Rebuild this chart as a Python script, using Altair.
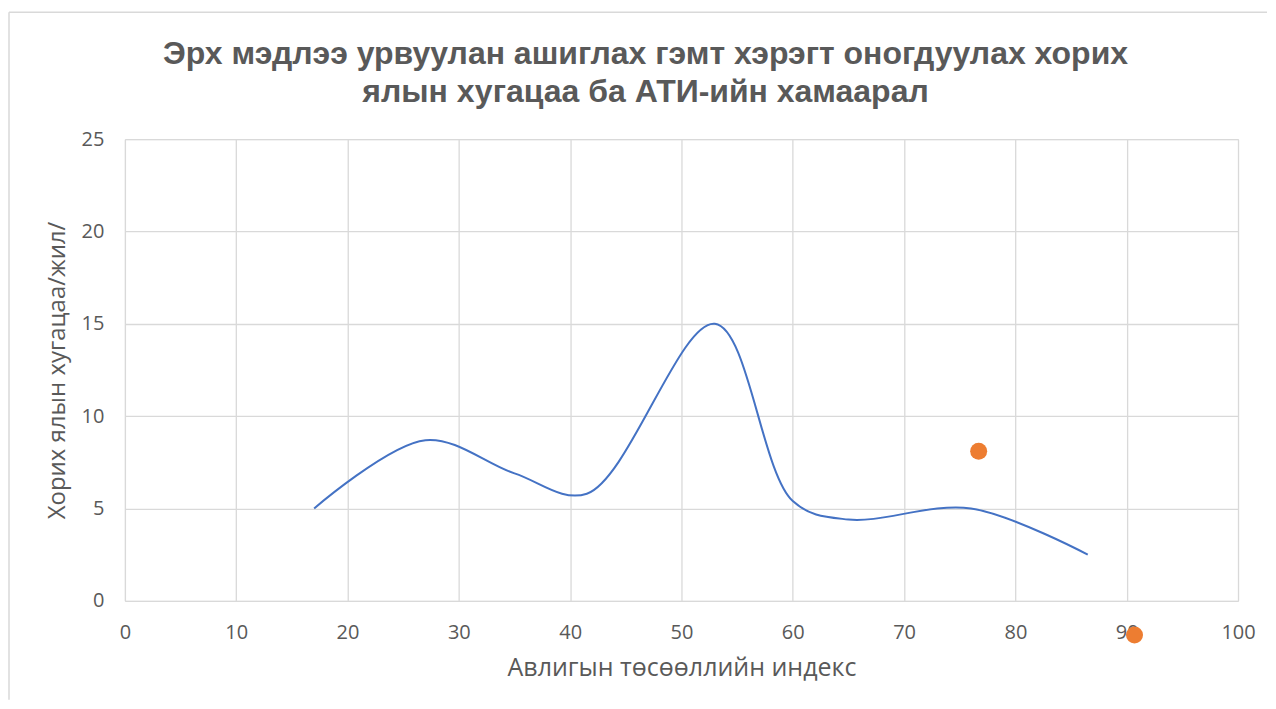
import altair as alt
import pandas as pd

# Line series (smoothed)
line_x = [17, 27, 35, 41.5, 53, 60, 65, 76, 86.5]
line_y = [5.0, 8.7, 6.9, 5.8, 15.0, 5.4, 4.4, 5.0, 2.5]

# Scatter series
pt_x = [76.7, 90.7]
pt_y = [8.1, -1.85]

x_ticks = list(range(0, 101, 10))
y_ticks = list(range(0, 26, 5))

title_lines = [
    "Эрх мэдлээ урвуулан ашиглах гэмт хэрэгт оногдуулах хорих",
    "ялын хугацаа ба АТИ-ийн хамаарал",
]

line_df = pd.DataFrame({"x": line_x, "y": line_y})
pt_df = pd.DataFrame({"x": pt_x, "y": pt_y})
one_df = pd.DataFrame({"k": [0]})

GRAY = "#595959"
FONT = "Open Sans"

xscale = alt.Scale(domain=[0, 100], nice=False, zero=False)
yscale = alt.Scale(domain=[0, 25], nice=False, zero=False)

xaxis = alt.Axis(
    title="Авлигын төсөөллийн индекс",
    values=x_ticks,
    grid=True,
    gridColor="#D9D9D9",
    gridWidth=1.3,
    domain=False,
    ticks=False,
    labelFlush=False,
    labelPadding=22,
    labelFontSize=20,
    labelColor=GRAY,
    labelFont=FONT,
    titleFontSize=25,
    titleFont=FONT,
    titleFontWeight="normal",
    titleColor=GRAY,
    titlePadding=13,
)
yaxis = alt.Axis(
    title="Хорих ялын хугацаа/жил/",
    values=y_ticks,
    grid=True,
    gridColor="#D9D9D9",
    gridWidth=1.3,
    domain=False,
    ticks=False,
    labelFlush=False,
    labelPadding=21,
    labelFontSize=20,
    labelColor=GRAY,
    labelFont=FONT,
    titleFontSize=24,
    titleFont=FONT,
    titleFontWeight="normal",
    titleColor=GRAY,
    titlePadding=12,
)

line = alt.Chart(line_df).mark_line(
    interpolate="catmull-rom", color="#4472C4", strokeWidth=2
).encode(
    x=alt.X("x:Q", scale=xscale, axis=xaxis),
    y=alt.Y("y:Q", scale=yscale, axis=yaxis),
)

points = alt.Chart(pt_df).mark_circle(
    size=290, color="#ED7D31", opacity=1
).encode(
    x=alt.X("x:Q", scale=xscale),
    y=alt.Y("y:Q", scale=yscale),
)

# chart frame (top and left edges)
frame_top = alt.Chart(one_df).mark_rule(color="#D9D9D9", strokeWidth=1.5).encode(
    x=alt.value(-116), x2=alt.value(1143), y=alt.value(-127)
)
frame_left = alt.Chart(one_df).mark_rule(color="#D9D9D9", strokeWidth=1.5).encode(
    x=alt.value(-116), y=alt.value(-127), y2=alt.value(561)
)

title = alt.Chart(one_df).mark_text(
    font="Liberation Sans",
    fontSize=32,
    fontWeight="bold",
    color=GRAY,
    lineHeight=38,
    align="center",
    baseline="alphabetic",
    lineBreak="\n",
).encode(
    x=alt.value(521),
    y=alt.value(-75),
    text=alt.value("\n".join(title_lines)),
)

chart = (
    alt.layer(frame_top, frame_left, title, line, points)
    .properties(
        width=1114,
        height=462,
        padding={"left": 0, "top": 3, "right": 0, "bottom": 0},
    )
    .configure_view(stroke=None)
    .configure(background="white")
)

chart.save("out.html", embed_options={"renderer": "svg", "actions": False})
